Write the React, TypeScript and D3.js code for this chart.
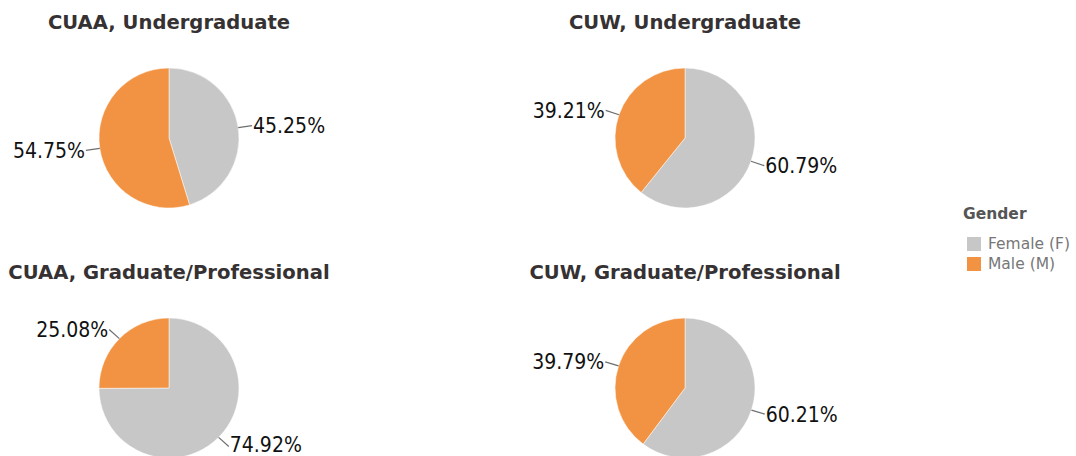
import React, { useEffect, useRef } from 'react';
import * as d3 from 'd3';

// Chart data
const panelTitles = [
  'CUAA, Undergraduate',
  'CUW, Undergraduate',
  'CUAA, Graduate/Professional',
  'CUW, Graduate/Professional',
];
const genders = ['Female (F)', 'Male (M)'];
const femaleShare = [45.25, 60.79, 74.92, 60.21];
const maleShare = [54.75, 39.21, 25.08, 39.79];
const genderColors = ['#c7c7c7', '#f29343'];

const App = () => {
  const chartRef = useRef<SVGSVGElement | null>(null);

  useEffect(() => {
    const width = 1076;
    const height = 456;
    const radius = 70;
    const svg = d3.select(chartRef.current);
    svg.selectAll('*').remove();

    const color = d3.scaleOrdinal<string, string>().domain(genders).range(genderColors);

    // panel grid: 2 columns x 2 rows
    const colX = d3.scalePoint<number>().domain([0, 1]).range([169, 685]);
    const rowY = d3.scalePoint<number>().domain([0, 1]).range([138, 388]);

    const pie = d3
      .pie<{ gender: string; value: number }>()
      .sort(null)
      .value(d => d.value);

    const arc = d3
      .arc<d3.PieArcDatum<{ gender: string; value: number }>>()
      .innerRadius(0)
      .outerRadius(radius);

    panelTitles.forEach((title, i) => {
      const cx = colX(i % 2) as number;
      const cy = rowY(Math.floor(i / 2)) as number;
      const slices = [
        { gender: genders[0], value: femaleShare[i] },
        { gender: genders[1], value: maleShare[i] },
      ];

      const g = svg.append('g').attr('transform', `translate(${cx},${cy})`);

      // Title
      g.append('text')
        .attr('x', 0)
        .attr('y', -radius - 39)
        .attr('text-anchor', 'middle')
        .style('font-family', 'DejaVu Sans')
        .style('font-weight', 'bold')
        .style('font-size', '19.6px')
        .style('fill', '#363132')
        .text(title);

      const arcs = pie(slices);

      g.selectAll('path.slice')
        .data(arcs)
        .enter()
        .append('path')
        .attr('class', 'slice')
        .attr('d', arc)
        .attr('fill', d => color(d.data.gender))
        .attr('stroke', '#fff')
        .attr('stroke-width', 0.5);

      // Label leader lines
      arcs.forEach(d => {
        const a = (d.startAngle + d.endAngle) / 2;
        const sx = Math.sin(a);
        const sy = -Math.cos(a);
        const x0 = sx * radius;
        const y0 = sy * radius;
        const x1 = sx * (radius + 13);
        const y1 = sy * (radius + 13);
        const right = sx >= 0;
        // keep the text inside the picture at the bottom edge
        const ty = Math.min(y1, height - cy - 12);
        g.append('line')
          .attr('x1', x0)
          .attr('y1', y0)
          .attr('x2', x1 + (right ? 1 : -1))
          .attr('y2', y1)
          .attr('stroke', '#6e6e6e')
          .attr('stroke-width', 1.2);
        g.append('text')
          .attr('x', x1 + (right ? 2 : -2))
          .attr('y', ty)
          .attr('dy', '0.36em')
          .attr('text-anchor', right ? 'start' : 'end')
          .style('font-family', 'DejaVu Sans Condensed, DejaVu Sans')
          .style('font-stretch', 'condensed')
          .style('font-size', '21px')
          .style('fill', '#111')
          .text(d3.format('.2f')(d.data.value) + '%');
      });
    });

    // Legend
    const legend = svg.append('g').attr('transform', 'translate(963,219)');
    legend
      .append('text')
      .attr('x', 0)
      .attr('y', 0)
      .style('font-family', 'DejaVu Sans')
      .style('font-weight', 'bold')
      .style('font-size', '15.5px')
      .style('fill', '#555')
      .text('Gender');

    const items = legend
      .selectAll('.legend-item')
      .data(genders)
      .enter()
      .append('g')
      .attr('class', 'legend-item')
      .attr('transform', (d, i) => `translate(4, ${18 + i * 20})`);

    items
      .append('rect')
      .attr('width', 14)
      .attr('height', 14)
      .attr('fill', d => color(d));

    items
      .append('text')
      .attr('x', 21)
      .attr('y', 12)
      .style('font-family', 'DejaVu Sans')
      .style('font-size', '15.5px')
      .style('fill', '#777')
      .text(d => d);

    svg.attr('width', width).attr('height', height);
  }, []);

  return (
    <svg
      ref={chartRef}
      width={1076}
      height={456}
      style={{ position: 'absolute', left: 0, top: 0, background: '#fff' }}
    />
  );
};

export default App;
